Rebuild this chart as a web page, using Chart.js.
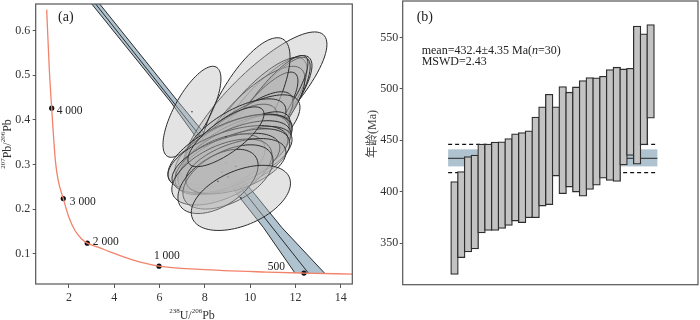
<!DOCTYPE html>
<html>
<head>
<meta charset="utf-8">
<script src="https://cdn.jsdelivr.net/npm/chart.js@4.4.0/dist/chart.umd.min.js"></script>
<style>
  html, body { margin: 0; padding: 0; background: #fff; }
  #wrap { position: relative; width: 700px; height: 320px; }
  #cA { position: absolute; left: 0; top: 0; }
  #cB { position: absolute; left: 355px; top: 0; }
</style>
</head>
<body>
<div id="wrap">
  <canvas id="cA" width="360" height="320"></canvas>
  <canvas id="cB" width="345" height="320"></canvas>
</div>
<script>
// ---- panel (a): Tera-Wasserburg concordia ----
const concX = [1.015, 1.13, 1.236, 1.40, 1.528, 1.748, 2.0, 2.265, 2.56, 2.808, 3.369, 3.81, 4.84, 5.974, 7.78, 10.73, 12.375, 14.51];
const concY = [0.647, 0.514, 0.426, 0.308, 0.263, 0.2234, 0.181, 0.152, 0.133, 0.1236, 0.113, 0.104, 0.0853, 0.0719, 0.0647, 0.0587, 0.0565, 0.0543];

const ageX = [1.236, 1.748, 2.808, 5.974, 12.375];
const ageY = [0.426, 0.2234, 0.1236, 0.0719, 0.0565];
const ageLabels = ['4 000', '3 000', '2 000', '1 000', '500'];

// discordia error band (edges) and line
const bandLeftX = [3.0, 6.49, 9.43, 10.58, 11.98];
const bandLeftY = [0.66, 0.44, 0.233, 0.159, 0.0565];
const bandRightX = [3.35, 6.83, 10.21, 11.39, 13.30];
const bandRightY = [0.66, 0.44, 0.233, 0.159, 0.0555];
const discX = [3.17, 12.57];
const discY = [0.66, 0.0565];

// error ellipses: centre, errors, correlation (drawing order)
const ellX   = [10.21, 7.43, 10.52, 10.21, 10.57, 9.99, 10.70, 10.34, 9.77, 9.90, 9.55, 9.20, 9.37, 9.73, 9.99, 9.46, 9.20, 9.11, 9.37, 9.64, 9.02, 9.28, 8.67, 8.93, 8.75, 9.37, 9.02, 8.58, 8.93, 9.59];
const ellY   = [0.433, 0.418, 0.418, 0.407, 0.400, 0.391, 0.422, 0.396, 0.429, 0.374, 0.356, 0.351, 0.369, 0.340, 0.351, 0.338, 0.334, 0.329, 0.325, 0.318, 0.316, 0.307, 0.300, 0.303, 0.283, 0.296, 0.272, 0.262, 0.362, 0.225];
const ellSx  = [3.18, 1.28, 2.21, 2.30, 2.08, 2.43, 1.85, 1.77, 1.99, 1.99, 2.65, 1.99, 2.21, 2.12, 1.77, 2.30, 2.52, 2.74, 2.43, 2.21, 2.65, 2.47, 1.99, 2.38, 2.21, 2.21, 1.99, 1.77, 1.68, 2.19];
const ellSy  = [0.164, 0.102, 0.126, 0.133, 0.140, 0.129, 0.122, 0.111, 0.155, 0.089, 0.100, 0.084, 0.078, 0.071, 0.067, 0.073, 0.078, 0.084, 0.073, 0.067, 0.071, 0.073, 0.068, 0.067, 0.074, 0.062, 0.072, 0.072, 0.067, 0.073];
const ellRho = [0.83, 0.72, 0.82, 0.80, 0.85, 0.78, 0.86, 0.82, 0.72, 0.75, 0.72, 0.70, 0.66, 0.62, 0.66, 0.62, 0.60, 0.60, 0.58, 0.56, 0.55, 0.55, 0.50, 0.52, 0.52, 0.50, 0.50, 0.50, 0.76, 0.45];

const xTicksA = [2, 4, 6, 8, 10, 12, 14];
const yTicksA = [0.1, 0.2, 0.3, 0.4, 0.5, 0.6];

// ---- panel (b): ages with 1 sigma bars ----
const barLow  = [319.5, 335.8, 341.3, 344.2, 359.8, 362.3, 362.3, 364.2, 367.2, 371.4, 369.8, 374.6, 374.6, 386.0, 387.3, 415.2, 398.0, 404.5, 399.6, 395.7, 402.1, 406.4, 413.2, 410.9, 409.9, 426.1, 435.2, 426.8, 445.6, 471.5];
const barHigh = [409.9, 419.6, 434.2, 435.6, 446.3, 446.3, 448.2, 448.5, 451.7, 456.3, 457.5, 459.2, 472.5, 482.5, 494.8, 482.5, 502.2, 496.8, 501.9, 508.1, 511.0, 510.7, 512.3, 518.8, 521.1, 519.4, 520.1, 561.2, 553.5, 562.5];
const yTicksB = [350, 400, 450, 500, 550];
const meanAge = 432.4;
const meanBand = [424.6, 441.2];
const meanLimits = [418.5, 446.1];
const meanSpan = [0.06, 31.0];

const SERIF = "'Liberation Serif', 'Times New Roman', serif";
const INK = '#333';
const FRAME = '#555';

function pts(xs, ys) {
  return xs.map((x, i) => ({ x: x, y: ys[i] }));
}

// keep the plot area where the axes say, no label overhang
function noPad(s) {
  s.paddingTop = 0;
  s.paddingBottom = 0;
  s.paddingLeft = 0;
  s.paddingRight = 0;
}

// frame around the plot area
const framePlugin = {
  id: 'frame',
  afterDraw(chart) {
    const { ctx, chartArea: a } = chart;
    ctx.save();
    ctx.strokeStyle = FRAME;
    ctx.lineWidth = 1.2;
    ctx.strokeRect(a.left, a.top, a.right - a.left, a.bottom - a.top);
    ctx.restore();
  }
};

// text with superscript parts
function richText(ctx, parts, x, y, size) {
  const big = size + 'px ' + SERIF, small = Math.round(size * 0.58) + 'px ' + SERIF;
  let w = 0;
  parts.forEach(p => { ctx.font = p[1] ? small : big; w += ctx.measureText(p[0]).width; });
  let cx = x - w / 2;
  parts.forEach(p => {
    ctx.font = p[1] ? small : big;
    ctx.fillText(p[0], cx, p[1] ? y - size * 0.42 : y);
    cx += ctx.measureText(p[0]).width;
  });
}

const concordiaPlugin = {
  id: 'concordiaExtras',
  beforeDatasetsDraw(chart) {
    const { ctx, chartArea: a } = chart;
    const xs = chart.scales.x, ys = chart.scales.y;
    ctx.save();
    ctx.beginPath();
    ctx.rect(a.left, a.top, a.right - a.left, a.bottom - a.top);
    ctx.clip();

    // discordia band
    ctx.beginPath();
    bandLeftX.forEach((x, i) => {
      const px = xs.getPixelForValue(x), py = ys.getPixelForValue(bandLeftY[i]);
      i ? ctx.lineTo(px, py) : ctx.moveTo(px, py);
    });
    for (let i = bandRightX.length - 1; i >= 0; i--) {
      ctx.lineTo(xs.getPixelForValue(bandRightX[i]), ys.getPixelForValue(bandRightY[i]));
    }
    ctx.closePath();
    ctx.fillStyle = '#aec3cf';
    ctx.fill();
    ctx.strokeStyle = '#2b2b2b';
    ctx.lineWidth = 1;
    [[bandLeftX, bandLeftY], [bandRightX, bandRightY], [discX, discY]].forEach(([lx, ly]) => {
      ctx.beginPath();
      lx.forEach((x, i) => {
        const px = xs.getPixelForValue(x), py = ys.getPixelForValue(ly[i]);
        i ? ctx.lineTo(px, py) : ctx.moveTo(px, py);
      });
      ctx.stroke();
    });

    // error ellipses
    ellX.forEach((cx, j) => {
      const r = ellRho[j], k = Math.sqrt(1 - r * r);
      ctx.beginPath();
      for (let i = 0; i <= 96; i++) {
        const t = i / 96 * Math.PI * 2;
        const px = xs.getPixelForValue(cx + ellSx[j] * Math.cos(t));
        const py = ys.getPixelForValue(ellY[j] + ellSy[j] * (r * Math.cos(t) + k * Math.sin(t)));
        i ? ctx.lineTo(px, py) : ctx.moveTo(px, py);
      }
      ctx.closePath();
      ctx.fillStyle = 'rgba(185,185,185,0.4)';
      ctx.fill();
      ctx.strokeStyle = '#2b2b2b';
      ctx.lineWidth = 1;
      ctx.stroke();
      ctx.fillStyle = '#333';
      ctx.beginPath();
      ctx.arc(xs.getPixelForValue(cx), ys.getPixelForValue(ellY[j]), 0.8, 0, Math.PI * 2);
      ctx.fill();
    });
    ctx.restore();
  },
  afterDraw(chart) {
    const { ctx } = chart;
    const xs = chart.scales.x, ys = chart.scales.y;
    ctx.save();
    ctx.fillStyle = '#222';
    ctx.font = '11.5px ' + SERIF;
    ctx.textBaseline = 'middle';
    const off = [[5, 2.5, 'left'], [6.5, 3.5, 'left'], [5.5, -1.5, 'left'], [-5, -10, 'left'], [-19, -6, 'right']];
    ageLabels.forEach((lab, i) => {
      ctx.textAlign = off[i][2];
      ctx.fillText(lab, xs.getPixelForValue(ageX[i]) + off[i][0], ys.getPixelForValue(ageY[i]) + off[i][1]);
    });

    ctx.textAlign = 'left';
    ctx.textBaseline = 'alphabetic';
    ctx.font = '14px ' + SERIF;
    ctx.fillText('(a)', 58, 21);

    // axis titles
    ctx.fillStyle = INK;
    richText(ctx, [['238', true], ['U/', false], ['206', true], ['Pb', false]], 192, 318.5, 12);
    ctx.translate(10.5, 144);
    ctx.rotate(-Math.PI / 2);
    richText(ctx, [['207', true], ['Pb/', false], ['206', true], ['Pb', false]], 0, 0, 12);
    ctx.restore();
  }
};

new Chart(document.getElementById('cA'), {
  type: 'scatter',
  data: {
    datasets: [
      {
        data: pts(concX, concY),
        showLine: true,
        pointRadius: 0,
        borderColor: '#f3826b',
        borderWidth: 1.3,
        cubicInterpolationMode: 'monotone'
      },
      {
        data: pts(ageX, ageY),
        pointRadius: 2.6,
        backgroundColor: '#111',
        borderWidth: 0
      }
    ]
  },
  options: {
    responsive: false,
    animation: false,
    layout: { padding: { left: 0, right: 7.7, top: 1, bottom: 0 } },
    plugins: { legend: { display: false }, tooltip: { enabled: false } },
    scales: {
      x: {
        type: 'linear', min: 0.53, max: 14.51,
        afterBuildTicks: s => { s.ticks = xTicksA.map(v => ({ value: v })); },
        afterFit: s => { s.height = 36; noPad(s); },
        grid: { drawOnChartArea: false, tickLength: 4, color: FRAME },
        border: { display: false },
        ticks: { font: { family: SERIF, size: 12 }, color: INK, padding: 3, maxRotation: 0, callback: v => String(v) }
      },
      y: {
        type: 'linear', min: 0.032, max: 0.6596,
        afterBuildTicks: s => { s.ticks = yTicksA.map(v => ({ value: v })); },
        afterFit: s => { s.width = 35.7; noPad(s); },
        grid: { drawOnChartArea: false, tickLength: 3, color: FRAME },
        border: { display: false },
        ticks: { font: { family: SERIF, size: 12 }, color: INK, padding: 2.5, callback: v => v.toFixed(1) }
      }
    }
  },
  plugins: [concordiaPlugin, framePlugin]
});

// ---- panel (b) ----
const meanPlugin = {
  id: 'meanBand',
  beforeDatasetsDraw(chart) {
    const { ctx } = chart;
    const xs = chart.scales.x, ys = chart.scales.y;
    const x0 = xs.getPixelForValue(meanSpan[0]), x1 = xs.getPixelForValue(meanSpan[1]);
    ctx.save();
    const yb0 = ys.getPixelForValue(meanBand[1]), yb1 = ys.getPixelForValue(meanBand[0]);
    ctx.fillStyle = '#aec3cf';
    ctx.fillRect(x0, yb0, x1 - x0, yb1 - yb0);
    ctx.strokeStyle = '#444';
    ctx.lineWidth = 1.2;
    ctx.beginPath();
    ctx.moveTo(x0, ys.getPixelForValue(meanAge));
    ctx.lineTo(x1, ys.getPixelForValue(meanAge));
    ctx.stroke();
    ctx.strokeStyle = '#111';
    ctx.lineWidth = 1.3;
    ctx.setLineDash([4, 3]);
    meanLimits.forEach(v => {
      ctx.beginPath();
      ctx.moveTo(x0, ys.getPixelForValue(v));
      ctx.lineTo(x1, ys.getPixelForValue(v));
      ctx.stroke();
    });
    ctx.restore();
  },
  afterDraw(chart) {
    const { ctx } = chart;
    ctx.save();
    ctx.fillStyle = '#222';
    ctx.textBaseline = 'alphabetic';
    ctx.font = '14px ' + SERIF;
    ctx.fillText('(b)', 61.7, 21);
    const segs = [['mean=432.4\u00b14.35 Ma(', false], ['n', true], ['=30)', false]];
    let x = 66.7;
    segs.forEach(s => {
      ctx.font = (s[1] ? 'italic ' : '') + '12px ' + SERIF;
      ctx.fillText(s[0], x, 54);
      x += ctx.measureText(s[0]).width;
    });
    ctx.font = '12px ' + SERIF;
    ctx.fillText('MSWD=2.43', 66.7, 64.8);

    ctx.fillStyle = '#444';
    ctx.translate(20.5, 134);
    ctx.rotate(-Math.PI / 2);
    ctx.textAlign = 'center';
    ctx.font = "12px 'Liberation Serif', 'Noto Sans CJK SC', serif";
    ctx.fillText('年龄(Ma)', 0, 0);
    ctx.restore();
  }
};

new Chart(document.getElementById('cB'), {
  type: 'bar',
  data: {
    datasets: [{
      data: barLow.map((lo, i) => ({ x: i + 1, y: [lo, barHigh[i]] })),
      backgroundColor: '#c3c3c3',
      borderColor: '#2e2e2e',
      borderWidth: 1.3,
      borderSkipped: false,
      barThickness: 7.6
    }]
  },
  options: {
    responsive: false,
    animation: false,
    layout: { padding: { left: 0, right: 2, top: 1, bottom: 35.3 } },
    plugins: { legend: { display: false }, tooltip: { enabled: false } },
    scales: {
      x: { type: 'linear', display: false, min: -1.2, max: 31.55 },
      y: {
        min: 309.5, max: 585.5,
        afterBuildTicks: s => { s.ticks = yTicksB.map(v => ({ value: v })); },
        afterFit: s => { s.width = 47.7; noPad(s); },
        grid: { drawOnChartArea: false, tickLength: 3, color: FRAME },
        border: { display: false },
        ticks: { font: { family: SERIF, size: 12 }, color: INK, padding: 1.5, callback: v => String(v) }
      }
    }
  },
  plugins: [meanPlugin, framePlugin]
});
</script>
</body>
</html>
